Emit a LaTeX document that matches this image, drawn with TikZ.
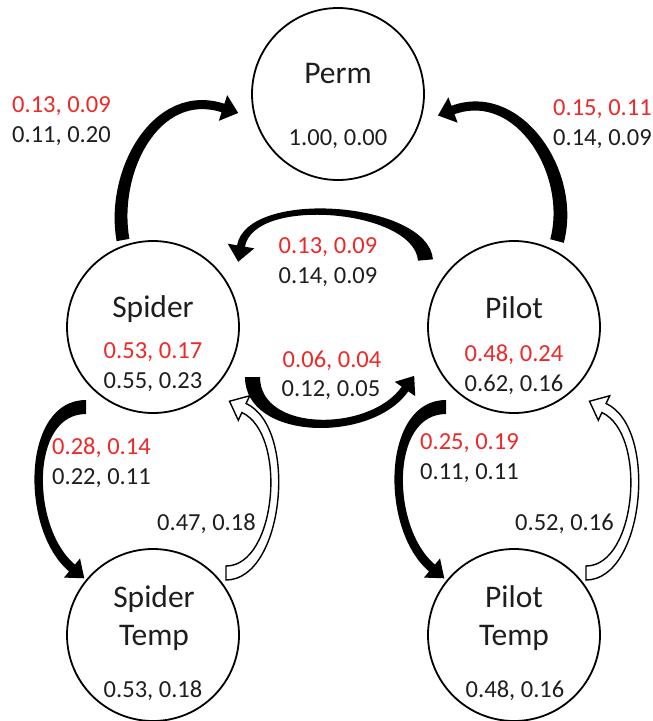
\documentclass[tikz,border=0pt]{standalone}
\usepackage{fontspec}
\setmainfont{Carlito}
\usetikzlibrary{calc}
\definecolor{numred}{RGB}{238,40,40}
\definecolor{txt}{RGB}{30,30,30}
\newcommand\headlen{16}
% #1 style, #2 tail coord, #3 tail direction, #4 head-base coord, #5 head direction,
% #6 tail width, #7 width at head, #8 looseness, #9 head width
\newcommand\blockarrow[9]{%
  \pgfmathsetmacro\baA{#3}%
  \pgfmathsetmacro\baD{#5}%
  \pgfmathsetmacro\baDin{#5+180}%
  \pgfmathsetmacro\baSL{#3+90}%
  \pgfmathsetmacro\baSR{#3-90}%
  \pgfmathsetmacro\baEL{#5+90}%
  \pgfmathsetmacro\baER{#5-90}%
  \pgfmathsetmacro\baWa{#6/2}%
  \pgfmathsetmacro\baWb{#7/2}%
  \pgfmathsetmacro\baH{#9/2}%
  \path[#1] ($(#2)+(\baSL:\baWa)$) to[out=\baA, in=\baDin, looseness=#8] ($(#4)+(\baEL:\baWb)$)
    -- ($(#4)+(\baEL:\baH)$) -- ($(#4)+(\baD:\headlen)$) -- ($(#4)+(\baER:\baH)$) -- ($(#4)+(\baER:\baWb)$)
    to[out=\baDin, in=\baA, looseness=#8] ($(#2)+(\baSR:\baWa)$) -- cycle;}
\begin{document}
\begin{tikzpicture}[x=1pt,y=1pt,
  state/.style={circle, draw=black, line width=1.8pt, minimum size=172pt, inner sep=0pt},
  title/.style={font=\fontsize{31.5}{38}\selectfont, text=txt, inner sep=0pt, anchor=base},
  num/.style={font=\fontsize{24.5}{29}\selectfont, text=txt, inner sep=0pt, anchor=base},
  rnum/.style={num, text=numred},
  solidarrow/.style={fill=black},
  hollowarrow/.style={fill=white, draw=black, line width=1.4pt, line join=miter}]
\useasboundingbox (0,0) rectangle (653,-721);

% states
\node[state] (perm) at (338,-94) {};
\node[state] (spider) at (153,-327) {};
\node[state] (pilot) at (514,-327) {};
\node[state] (spidertemp) at (153,-635) {};
\node[state] (pilottemp) at (514,-635) {};

% texts inside states
\node[title] (permT) at (338,-83) {Perm};
\node[num] (permN) at (338,-145) {1.00, 0.00};
\node[title] (spiderT) at (153,-317) {Spider};
\node[rnum] (spiderR) at (153,-358) {0.53, 0.17};
\node[num] (spiderN) at (153,-388) {0.55, 0.23};
\node[title] (pilotT) at (514,-318) {Pilot};
\node[rnum] (pilotR) at (514,-361) {0.48, 0.24};
\node[num] (pilotN) at (514,-391) {0.62, 0.16};
\node[title] (stT1) at (154,-607) {Spider};
\node[title] (stT2) at (154,-645) {Temp};
\node[num] (stN) at (153,-697) {0.53, 0.18};
\node[title] (ptT1) at (514,-607) {Pilot};
\node[title] (ptT2) at (514,-645) {Temp};
\node[num] (ptN) at (515,-697) {0.48, 0.16};

% arrow end points
\coordinate (a1s) at ($(spider)+(-30,87)$);
\coordinate (a1e) at ($(perm)+(-115,-14)$);
\coordinate (a2s) at ($(pilot)+(43,86)$);
\coordinate (a2e) at ($(perm)+(115,-16)$);
\coordinate (a3s) at ($(pilot)+(-88.5,67)$);
\coordinate (a3e) at ($(spider)+(88,81)$);
\coordinate (a4s) at ($(spider)+(99.5,-50)$);
\coordinate (a4e) at ($(pilot)+(-109,-62)$);
\coordinate (a5s) at ($(spider)+(-67,-80)$);
\coordinate (a5e) at ($(spidertemp)+(-81,67)$);
\coordinate (a6s) at ($(spidertemp)+(73,62)$);
\coordinate (a6e) at ($(spider)+(91,-81)$);
\coordinate (a7s) at ($(pilot)+(-68,-80)$);
\coordinate (a7e) at ($(pilottemp)+(-82,67)$);
\coordinate (a8s) at ($(pilottemp)+(72,62)$);
\coordinate (a8e) at ($(pilot)+(90,-81)$);

% connectors
\blockarrow{solidarrow}{a1s}{100}{a1e}{-18}{13}{9}{1.08}{27}
\blockarrow{solidarrow}{a2s}{75}{a2e}{200}{14}{9}{1.07}{27}
\blockarrow{solidarrow}{a3s}{95}{a3e}{-100}{15}{8}{0.76}{27}
\blockarrow{solidarrow}{a4s}{-90}{a4e}{55}{15}{8}{1.0}{25}
\blockarrow{solidarrow}{a5s}{180}{a5e}{-40}{14}{9}{0.96}{25}
\blockarrow{hollowarrow}{a6s}{0}{a6e}{155}{14}{10}{0.84}{27}
\blockarrow{solidarrow}{a7s}{180}{a7e}{-40}{14}{9}{0.96}{25}
\blockarrow{hollowarrow}{a8s}{0}{a8e}{155}{14}{10}{0.84}{27}

% connector labels
\node[rnum, anchor=base west] (l1r) at (12,-112) {0.13, 0.09};
\node[num, anchor=base west] (l1b) at (12,-142) {0.11, 0.20};
\node[rnum, anchor=base west] (l2r) at (553,-115) {0.15, 0.11};
\node[num, anchor=base west] (l2b) at (553,-145) {0.14, 0.09};
\node[rnum] (l3r) at (328,-253) {0.13, 0.09};
\node[num] (l3b) at (328,-283) {0.14, 0.09};
\node[rnum] (l4r) at (332,-367) {0.06, 0.04};
\node[num] (l4b) at (331,-396) {0.12, 0.05};
\node[rnum, anchor=base west] (l5r) at (52,-454) {0.28, 0.14};
\node[num, anchor=base west] (l5b) at (52,-484) {0.22, 0.11};
\node[num, anchor=base west] (l6) at (157,-530) {0.47, 0.18};
\node[rnum, anchor=base west] (l7r) at (420,-449) {0.25, 0.19};
\node[num, anchor=base west] (l7b) at (420,-479) {0.11, 0.11};
\node[num, anchor=base west] (l8) at (515,-530) {0.52, 0.16};
\end{tikzpicture}
\end{document}
